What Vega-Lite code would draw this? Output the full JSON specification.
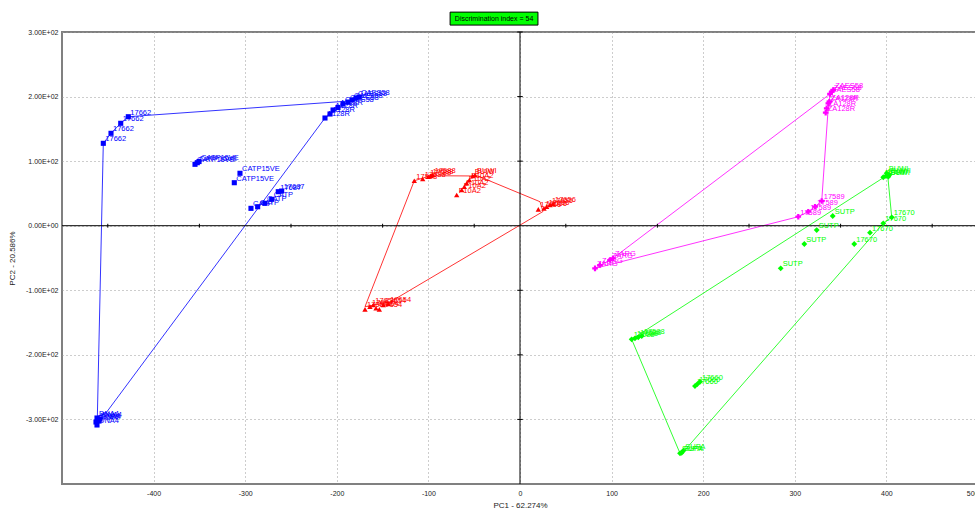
{
  "$schema": "https://vega.github.io/schema/vega-lite/v6.json",
  "autosize": {"type": "none"},
  "padding": {"left": 62, "top": 32, "right": 0, "bottom": 27},
  "width": 916,
  "height": 452,
  "background": "white",
  "config": {
    "view": {"stroke": "#808080", "strokeWidth": 2},
    "font": "Liberation Sans",
    "axis": {
      "domain": false, "ticks": false, "grid": true,
      "gridColor": "#9a9a9a", "gridDash": [1, 3], "gridWidth": 1,
      "labelFont": "Liberation Sans", "labelFontSize": 7, "labelColor": "#222",
      "titleFont": "Liberation Sans", "titleFontSize": 8, "titleFontWeight": "normal", "titleColor": "#222"
    }
  },
  "datasets": {
    "points": [
      {"g": "1", "label": "17662", "x": -454.9, "y": 127.6},
      {"g": "1", "label": "17662", "x": -446.5, "y": 143.1},
      {"g": "1", "label": "17662", "x": -435.9, "y": 158.6},
      {"g": "1", "label": "17662", "x": -427.6, "y": 168.8},
      {"g": "1", "label": "A128R", "x": -212.9, "y": 166.8},
      {"g": "1", "label": "A128R", "x": -207.4, "y": 173.0},
      {"g": "1", "label": "A128R", "x": -204.1, "y": 179.2},
      {"g": "1", "label": "A128R", "x": -198.7, "y": 183.1},
      {"g": "1", "label": "CAES58", "x": -193.2, "y": 188.4},
      {"g": "1", "label": "CAES58", "x": -187.8, "y": 191.5},
      {"g": "1", "label": "CAES58", "x": -183.4, "y": 194.6},
      {"g": "1", "label": "CAES58", "x": -179.0, "y": 197.7},
      {"g": "1", "label": "CAES58", "x": -175.8, "y": 199.3},
      {"g": "1", "label": "CATP15VE", "x": -354.8, "y": 95.1},
      {"g": "1", "label": "CATP15VE", "x": -352.3, "y": 97.6},
      {"g": "1", "label": "CATP15VE", "x": -350.4, "y": 99.4},
      {"g": "1", "label": "CATP15VE", "x": -305.7, "y": 81.2},
      {"g": "1", "label": "CATP15VE", "x": -311.9, "y": 66.6},
      {"g": "1", "label": "CATP", "x": -293.7, "y": 26.9},
      {"g": "1", "label": "CATP", "x": -286.4, "y": 29.4},
      {"g": "1", "label": "CATP", "x": -278.4, "y": 34.7},
      {"g": "1", "label": "CATP", "x": -271.1, "y": 40.9},
      {"g": "1", "label": "17687", "x": -263.9, "y": 52.7},
      {"g": "1", "label": "17687", "x": -260.2, "y": 53.7},
      {"g": "1", "label": "DNA4", "x": -462.9, "y": -304.0},
      {"g": "1", "label": "DNA4", "x": -461.8, "y": -297.8},
      {"g": "1", "label": "DNA4", "x": -460.7, "y": -300.9},
      {"g": "1", "label": "DNA4", "x": -458.5, "y": -299.4},
      {"g": "1", "label": "DNA4", "x": -461.8, "y": -308.6},
      {"g": "1", "label": "DNA4", "x": -459.6, "y": -302.5},
      {"g": "2", "label": "17654", "x": -169.2, "y": -129.5},
      {"g": "2", "label": "17654", "x": -163.8, "y": -125.4},
      {"g": "2", "label": "17654", "x": -160.2, "y": -122.8},
      {"g": "2", "label": "17654", "x": -157.2, "y": -127.9},
      {"g": "2", "label": "17654", "x": -153.6, "y": -129.5},
      {"g": "2", "label": "17654", "x": -149.2, "y": -122.8},
      {"g": "2", "label": "17654", "x": -143.8, "y": -121.3},
      {"g": "2", "label": "17588", "x": -115.4, "y": 69.7},
      {"g": "2", "label": "17588", "x": -106.2, "y": 72.3},
      {"g": "2", "label": "17588", "x": -100.1, "y": 75.9},
      {"g": "2", "label": "17588", "x": -97.5, "y": 77.4},
      {"g": "2", "label": "17588", "x": -95.3, "y": 78.5},
      {"g": "2", "label": "BUWI", "x": -49.1, "y": 78.5},
      {"g": "2", "label": "BUWI", "x": -51.6, "y": 77.0},
      {"g": "2", "label": "F10A2", "x": -55.3, "y": 70.8},
      {"g": "2", "label": "F10A2", "x": -58.2, "y": 65.7},
      {"g": "2", "label": "F10A2", "x": -60.8, "y": 60.4},
      {"g": "2", "label": "F10A2", "x": -63.6, "y": 55.3},
      {"g": "2", "label": "F10A2", "x": -69.1, "y": 47.6},
      {"g": "2", "label": "17656", "x": 20.0, "y": 25.4},
      {"g": "2", "label": "17656", "x": 26.2, "y": 26.9},
      {"g": "2", "label": "17656", "x": 29.1, "y": 29.4},
      {"g": "2", "label": "17656", "x": 32.8, "y": 32.1},
      {"g": "2", "label": "17656", "x": 36.0, "y": 33.6},
      {"g": "3", "label": "ZAES58", "x": 338.4, "y": 204.0},
      {"g": "3", "label": "ZAES58", "x": 340.3, "y": 207.5},
      {"g": "3", "label": "ZAES58", "x": 342.0, "y": 210.2},
      {"g": "3", "label": "ZA128R", "x": 336.6, "y": 189.6},
      {"g": "3", "label": "ZA128R", "x": 337.7, "y": 192.0},
      {"g": "3", "label": "ZA128R", "x": 334.8, "y": 181.8},
      {"g": "3", "label": "ZA128R", "x": 333.7, "y": 175.0},
      {"g": "3", "label": "17589", "x": 303.8, "y": 13.9},
      {"g": "3", "label": "17589", "x": 314.7, "y": 21.7},
      {"g": "3", "label": "17589", "x": 322.1, "y": 29.4},
      {"g": "3", "label": "17589", "x": 329.4, "y": 38.3},
      {"g": "3", "label": "ZARG", "x": 81.9, "y": -66.0},
      {"g": "3", "label": "ZARG", "x": 87.3, "y": -60.9},
      {"g": "3", "label": "ZARG", "x": 98.3, "y": -53.1},
      {"g": "3", "label": "ZARG", "x": 101.5, "y": -50.4},
      {"g": "4", "label": "BUWI", "x": 396.6, "y": 75.0},
      {"g": "4", "label": "BUWI", "x": 399.6, "y": 77.0},
      {"g": "4", "label": "BUWI", "x": 402.1, "y": 75.9},
      {"g": "4", "label": "BUWI", "x": 403.2, "y": 78.5},
      {"g": "4", "label": "BUWI", "x": 400.3, "y": 81.2},
      {"g": "4", "label": "17670", "x": 405.8, "y": 13.0},
      {"g": "4", "label": "17670", "x": 396.6, "y": 3.7},
      {"g": "4", "label": "17670", "x": 382.1, "y": -10.8},
      {"g": "4", "label": "17670", "x": 364.9, "y": -28.3},
      {"g": "4", "label": "SUTP", "x": 341.4, "y": 15.0},
      {"g": "4", "label": "SUTP", "x": 323.9, "y": -6.7},
      {"g": "4", "label": "SUTP", "x": 310.4, "y": -28.3},
      {"g": "4", "label": "SUTP", "x": 284.6, "y": -66.0},
      {"g": "4", "label": "17588", "x": 121.9, "y": -175.9},
      {"g": "4", "label": "17588", "x": 125.5, "y": -174.4},
      {"g": "4", "label": "17588", "x": 129.1, "y": -172.8},
      {"g": "4", "label": "17588", "x": 132.9, "y": -170.8},
      {"g": "4", "label": "17660", "x": 191.0, "y": -248.3},
      {"g": "4", "label": "17660", "x": 193.6, "y": -245.2},
      {"g": "4", "label": "17660", "x": 196.5, "y": -241.6},
      {"g": "4", "label": "SUPA", "x": 176.5, "y": -351.6},
      {"g": "4", "label": "SUPA", "x": 178.3, "y": -348.5},
      {"g": "4", "label": "SUPA", "x": 174.7, "y": -352.5}
    ],
    "paths": [
      {"g": "1", "i": 1, "x": -461.4, "y": -295.8},
      {"g": "1", "i": 2, "x": -454.9, "y": 127.6},
      {"g": "1", "i": 3, "x": -446.5, "y": 143.1},
      {"g": "1", "i": 4, "x": -435.9, "y": 158.6},
      {"g": "1", "i": 5, "x": -427.6, "y": 168.8},
      {"g": "1", "i": 6, "x": -186.7, "y": 193.1},
      {"g": "1", "i": 7, "x": -212.9, "y": 166.8},
      {"g": "1", "i": 8, "x": -452.0, "y": -290.1},
      {"g": "1", "i": 9, "x": -461.4, "y": -295.8},
      {"g": "2", "i": 1, "x": -169.2, "y": -125.4},
      {"g": "2", "i": 2, "x": -115.4, "y": 69.7},
      {"g": "2", "i": 3, "x": -97.5, "y": 77.4},
      {"g": "2", "i": 4, "x": -46.0, "y": 77.0},
      {"g": "2", "i": 5, "x": 21.8, "y": 37.2},
      {"g": "2", "i": 6, "x": 25.1, "y": 22.0},
      {"g": "2", "i": 7, "x": -141.9, "y": -118.2},
      {"g": "2", "i": 8, "x": -169.2, "y": -125.4},
      {"g": "3", "i": 1, "x": 101.5, "y": -50.4},
      {"g": "3", "i": 2, "x": 338.4, "y": 204.0},
      {"g": "3", "i": 3, "x": 336.2, "y": 176.9},
      {"g": "3", "i": 4, "x": 329.4, "y": 38.3},
      {"g": "3", "i": 5, "x": 322.1, "y": 29.4},
      {"g": "3", "i": 6, "x": 314.7, "y": 21.7},
      {"g": "3", "i": 7, "x": 303.8, "y": 13.9},
      {"g": "3", "i": 8, "x": 81.9, "y": -66.0},
      {"g": "3", "i": 9, "x": 101.5, "y": -50.4},
      {"g": "4", "i": 1, "x": 397.4, "y": 75.0},
      {"g": "4", "i": 2, "x": 134.6, "y": -164.2},
      {"g": "4", "i": 3, "x": 121.9, "y": -175.9},
      {"g": "4", "i": 4, "x": 174.7, "y": -352.5},
      {"g": "4", "i": 5, "x": 180.1, "y": -347.4},
      {"g": "4", "i": 6, "x": 396.6, "y": 3.7},
      {"g": "4", "i": 7, "x": 405.8, "y": 13.0},
      {"g": "4", "i": 8, "x": 401.7, "y": 73.9}
    ],
    "xticks": [{"v": -450}, {"v": -350}, {"v": -250}, {"v": -150}, {"v": -50}, {"v": 50}, {"v": 150}, {"v": 250}, {"v": 350}, {"v": 450}],
    "yticks": [{"v": -300}, {"v": -200}, {"v": -100}, {"v": 100}, {"v": 200}, {"v": 300}]
  },
  "layer": [
    {
      "data": {"name": "paths"},
      "mark": {"type": "line", "strokeWidth": 1, "opacity": 0.8},
      "encoding": {
        "x": {"field": "x", "type": "quantitative", "scale": {"domain": [-500, 500], "nice": false, "zero": false},
              "axis": {"values": [-400, -300, -200, -100, 0, 100, 200, 300, 400, 500], "labelExpr": "'' + datum.value", "labelPadding": 5, "title": "PC1 - 62.274%", "titlePadding": 5}},
        "y": {"field": "y", "type": "quantitative", "scale": {"domain": [-400, 300], "nice": false, "zero": false},
              "axis": {"values": [-300, -200, -100, 0, 100, 200, 300], "labelExpr": "datum.value == 0 ? '0.00E+00' : (datum.value < 0 ? '-' : '') + (abs(datum.value) / 100) + '.00E+02'", "labelPadding": 4, "title": "PC2 - 20.586%", "titlePadding": 9}},
        "color": {"field": "g", "type": "nominal", "scale": {"domain": ["1", "2", "3", "4"], "range": ["#0000ff", "#ff0000", "#ff00ff", "#00ff00"]}, "legend": null},
        "order": {"field": "i", "type": "quantitative"}
      }
    },
    {
      "data": {"values": [{"z": 0}]},
      "mark": {"type": "rule", "color": "#000000", "strokeWidth": 1},
      "encoding": {"x": {"field": "z", "type": "quantitative"}}
    },
    {
      "data": {"values": [{"z": 0}]},
      "mark": {"type": "rule", "color": "#000000", "strokeWidth": 1},
      "encoding": {"y": {"field": "z", "type": "quantitative"}}
    },
    {
      "data": {"name": "xticks"},
      "mark": {"type": "rule", "color": "#000000", "strokeWidth": 1},
      "encoding": {
        "x": {"field": "v", "type": "quantitative"},
        "y": {"datum": -3, "type": "quantitative"},
        "y2": {"datum": 3}
      }
    },
    {
      "data": {"name": "yticks"},
      "mark": {"type": "rule", "color": "#000000", "strokeWidth": 1},
      "encoding": {
        "y": {"field": "v", "type": "quantitative"},
        "x": {"datum": -3, "type": "quantitative"},
        "x2": {"datum": 3}
      }
    },
    {
      "data": {"name": "points"},
      "mark": {"type": "point", "filled": true, "opacity": 1},
      "encoding": {
        "x": {"field": "x", "type": "quantitative"},
        "y": {"field": "y", "type": "quantitative"},
        "color": {"field": "g", "type": "nominal", "legend": null},
        "shape": {"field": "g", "type": "nominal", "scale": {"domain": ["1", "2", "3", "4"], "range": ["square", "triangle-up", "cross", "diamond"]}, "legend": null},
        "size": {"field": "g", "type": "nominal", "scale": {"domain": ["1", "2", "3", "4"], "range": [26, 34, 22, 40]}, "legend": null}
      }
    },
    {
      "data": {"name": "points"},
      "mark": {"type": "text", "align": "left", "baseline": "alphabetic", "dx": 2, "dy": -2, "fontSize": 7.5, "font": "Liberation Sans"},
      "encoding": {
        "x": {"field": "x", "type": "quantitative"},
        "y": {"field": "y", "type": "quantitative"},
        "color": {"field": "g", "type": "nominal", "legend": null},
        "text": {"field": "label", "type": "nominal"}
      }
    },
    {
      "data": {"values": [{"t": "Discrimination index = 54"}]},
      "mark": {"type": "rect", "fill": "#00ff00", "stroke": "#000000", "strokeWidth": 1, "clip": false},
      "encoding": {
        "x": {"datum": -76.3, "type": "quantitative"},
        "x2": {"datum": 19.6},
        "y": {"datum": 330.8, "type": "quantitative"},
        "y2": {"datum": 310.7}
      }
    },
    {
      "data": {"values": [{"t": "Discrimination index = 54"}]},
      "mark": {"type": "text", "align": "center", "baseline": "middle", "fontSize": 7, "font": "Liberation Sans", "color": "#000000", "clip": false},
      "encoding": {
        "x": {"datum": -28.3, "type": "quantitative"},
        "y": {"datum": 320.7, "type": "quantitative"},
        "text": {"field": "t", "type": "nominal"}
      }
    }
  ]
}
